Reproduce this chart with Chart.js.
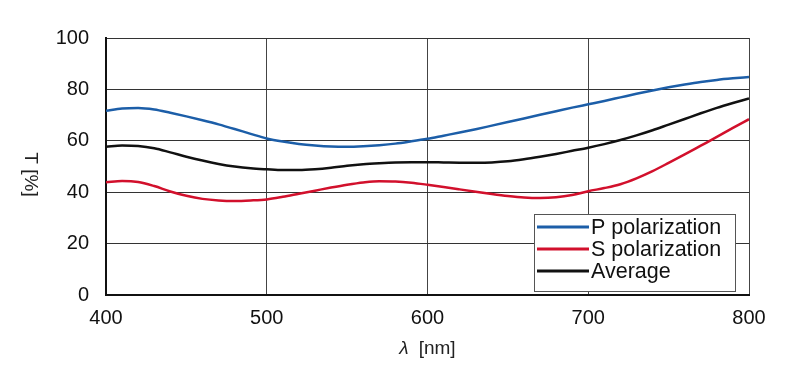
<!DOCTYPE html>
<html>
<head>
<meta charset="utf-8">
<script src="https://cdn.jsdelivr.net/npm/chart.js@4"></script>
<style>
html,body{margin:0;padding:0;background:#fff;}
#wrap{width:800px;height:380px;position:relative;}
</style>
</head>
<body>
<div id="wrap"><canvas id="c" width="800" height="380"></canvas></div>
<script>
const wavelengths = [400,410,420,430,440,450,460,470,480,490,500,510,520,530,540,550,560,570,580,590,600,610,620,630,640,650,660,670,680,690,700,710,720,730,740,750,760,770,780,790,800];
const pPolarization = [71.7,72.6,72.8,72.2,70.9,69.5,68.0,66.4,64.6,62.7,60.9,59.7,58.8,58.2,57.8,57.7,57.9,58.3,58.9,59.8,60.8,62.0,63.2,64.5,65.9,67.3,68.7,70.1,71.5,72.9,74.2,75.5,76.9,78.3,79.6,80.8,81.9,82.9,83.7,84.3,84.8];
const sPolarization = [43.9,44.4,44.0,42.4,40.3,38.6,37.4,36.8,36.6,36.8,37.2,38.2,39.4,40.6,41.8,42.9,43.8,44.3,44.2,43.7,42.9,42.0,41.1,40.2,39.3,38.5,37.9,37.7,38.0,38.9,40.4,41.6,43.1,45.4,48.2,51.4,54.7,58.1,61.5,65.0,68.4];
const average = [57.7,58.2,58.0,57.1,55.5,53.8,52.3,51.0,50.0,49.3,48.9,48.6,48.6,48.9,49.5,50.3,50.9,51.3,51.6,51.7,51.7,51.6,51.5,51.5,51.6,52.0,52.8,53.8,54.9,56.1,57.3,58.7,60.3,62.1,64.1,66.3,68.5,70.7,72.8,74.7,76.5];
const xTicks = [400,500,600,700,800];
const yTicks = [0,20,40,60,80,100];
const seriesNames = ['P polarization','S polarization','Average'];
const seriesColors = ['#1c5ea8','#d2102c','#111111'];
const yTitle = 'T [%]';
const xTitleSymbol = 'λ';
const xTitleUnit = '[nm]';

const FONT = 'Liberation Sans, Arial, sans-serif';
const toPts = arr => wavelengths.map((w,i)=>({x:w,y:arr[i]}));

const customPlugin = {
  id: 'custom',
  afterDraw(chart) {
    const ctx = chart.ctx;
    const area = chart.chartArea;
    ctx.save();
    ctx.fillStyle = '#222';
    ctx.font = '19px ' + FONT;
    ctx.translate(30, (area.top + area.bottom)/2 + 8);
    ctx.rotate(Math.PI/2);
    ctx.textAlign = 'center';
    ctx.textBaseline = 'middle';
    ctx.fillText(yTitle, 0, 0);
    ctx.restore();

    ctx.save();
    ctx.fillStyle = '#222';
    ctx.textBaseline = 'middle';
    const cx = chart.scales.x.getPixelForValue(600);
    ctx.font = 'italic 19px ' + FONT;
    const w1 = ctx.measureText(xTitleSymbol).width;
    ctx.font = '19px ' + FONT;
    const gap = 10;
    const w2 = ctx.measureText(xTitleUnit).width;
    const startX = cx - (w1 + gap + w2)/2;
    ctx.font = 'italic 19px ' + FONT;
    ctx.textAlign = 'left';
    ctx.fillText(xTitleSymbol, startX, 349);
    ctx.font = '19px ' + FONT;
    ctx.fillText(xTitleUnit, startX + w1 + gap, 349);
    ctx.restore();

    ctx.save();
    const bx = 534, by = 214, bw = 201, bh = 77;
    ctx.fillStyle = '#fff';
    ctx.fillRect(bx, by, bw, bh);
    ctx.strokeStyle = '#555';
    ctx.lineWidth = 1;
    ctx.strokeRect(bx + 0.5, by + 0.5, bw, bh);
    const rows = [227, 249, 271];
    ctx.font = '21.5px ' + FONT;
    ctx.textBaseline = 'middle';
    ctx.textAlign = 'left';
    seriesNames.forEach((n, i) => {
      ctx.strokeStyle = seriesColors[i];
      ctx.lineWidth = 3;
      ctx.beginPath();
      ctx.moveTo(537, rows[i]);
      ctx.lineTo(589, rows[i]);
      ctx.stroke();
      ctx.fillStyle = '#111';
      ctx.fillText(n, 591, rows[i] + 1);
    });
    ctx.restore();
  }
};

new Chart(document.getElementById('c'), {
  type: 'line',
  data: {
    datasets: seriesNames.map((n, i) => ({
      label: n,
      data: toPts([pPolarization, sPolarization, average][i]),
      borderColor: seriesColors[i],
      borderWidth: 2.5,
      pointRadius: 0,
      cubicInterpolationMode: 'monotone',
      fill: false
    }))
  },
  options: {
    responsive: false,
    animation: false,
    layout: { padding: { left: 0, right: 51, top: 38, bottom: 0 } },
    plugins: { legend: { display: false }, tooltip: { enabled: false } },
    scales: {
      x: {
        type: 'linear',
        min: 400, max: 800,
        afterBuildTicks: s => { s.ticks = xTicks.map(v => ({value: v})); },
        afterFit: s => { s.height = 85; },
        grid: { color: '#444', lineWidth: 1, drawTicks: false },
        border: { color: '#111', width: 2 },
        ticks: { color: '#111', font: { family: FONT, size: 20 }, padding: 11, maxRotation: 0 }
      },
      y: {
        min: 0, max: 100,
        afterBuildTicks: s => { s.ticks = yTicks.map(v => ({value: v})); },
        afterFit: s => { s.width = 106; },
        grid: { color: '#333', lineWidth: 1, drawTicks: false },
        border: { color: '#111', width: 2 },
        ticks: { color: '#111', font: { family: FONT, size: 20 }, padding: 17 }
      }
    }
  },
  plugins: [customPlugin]
});
</script>
</body>
</html>
